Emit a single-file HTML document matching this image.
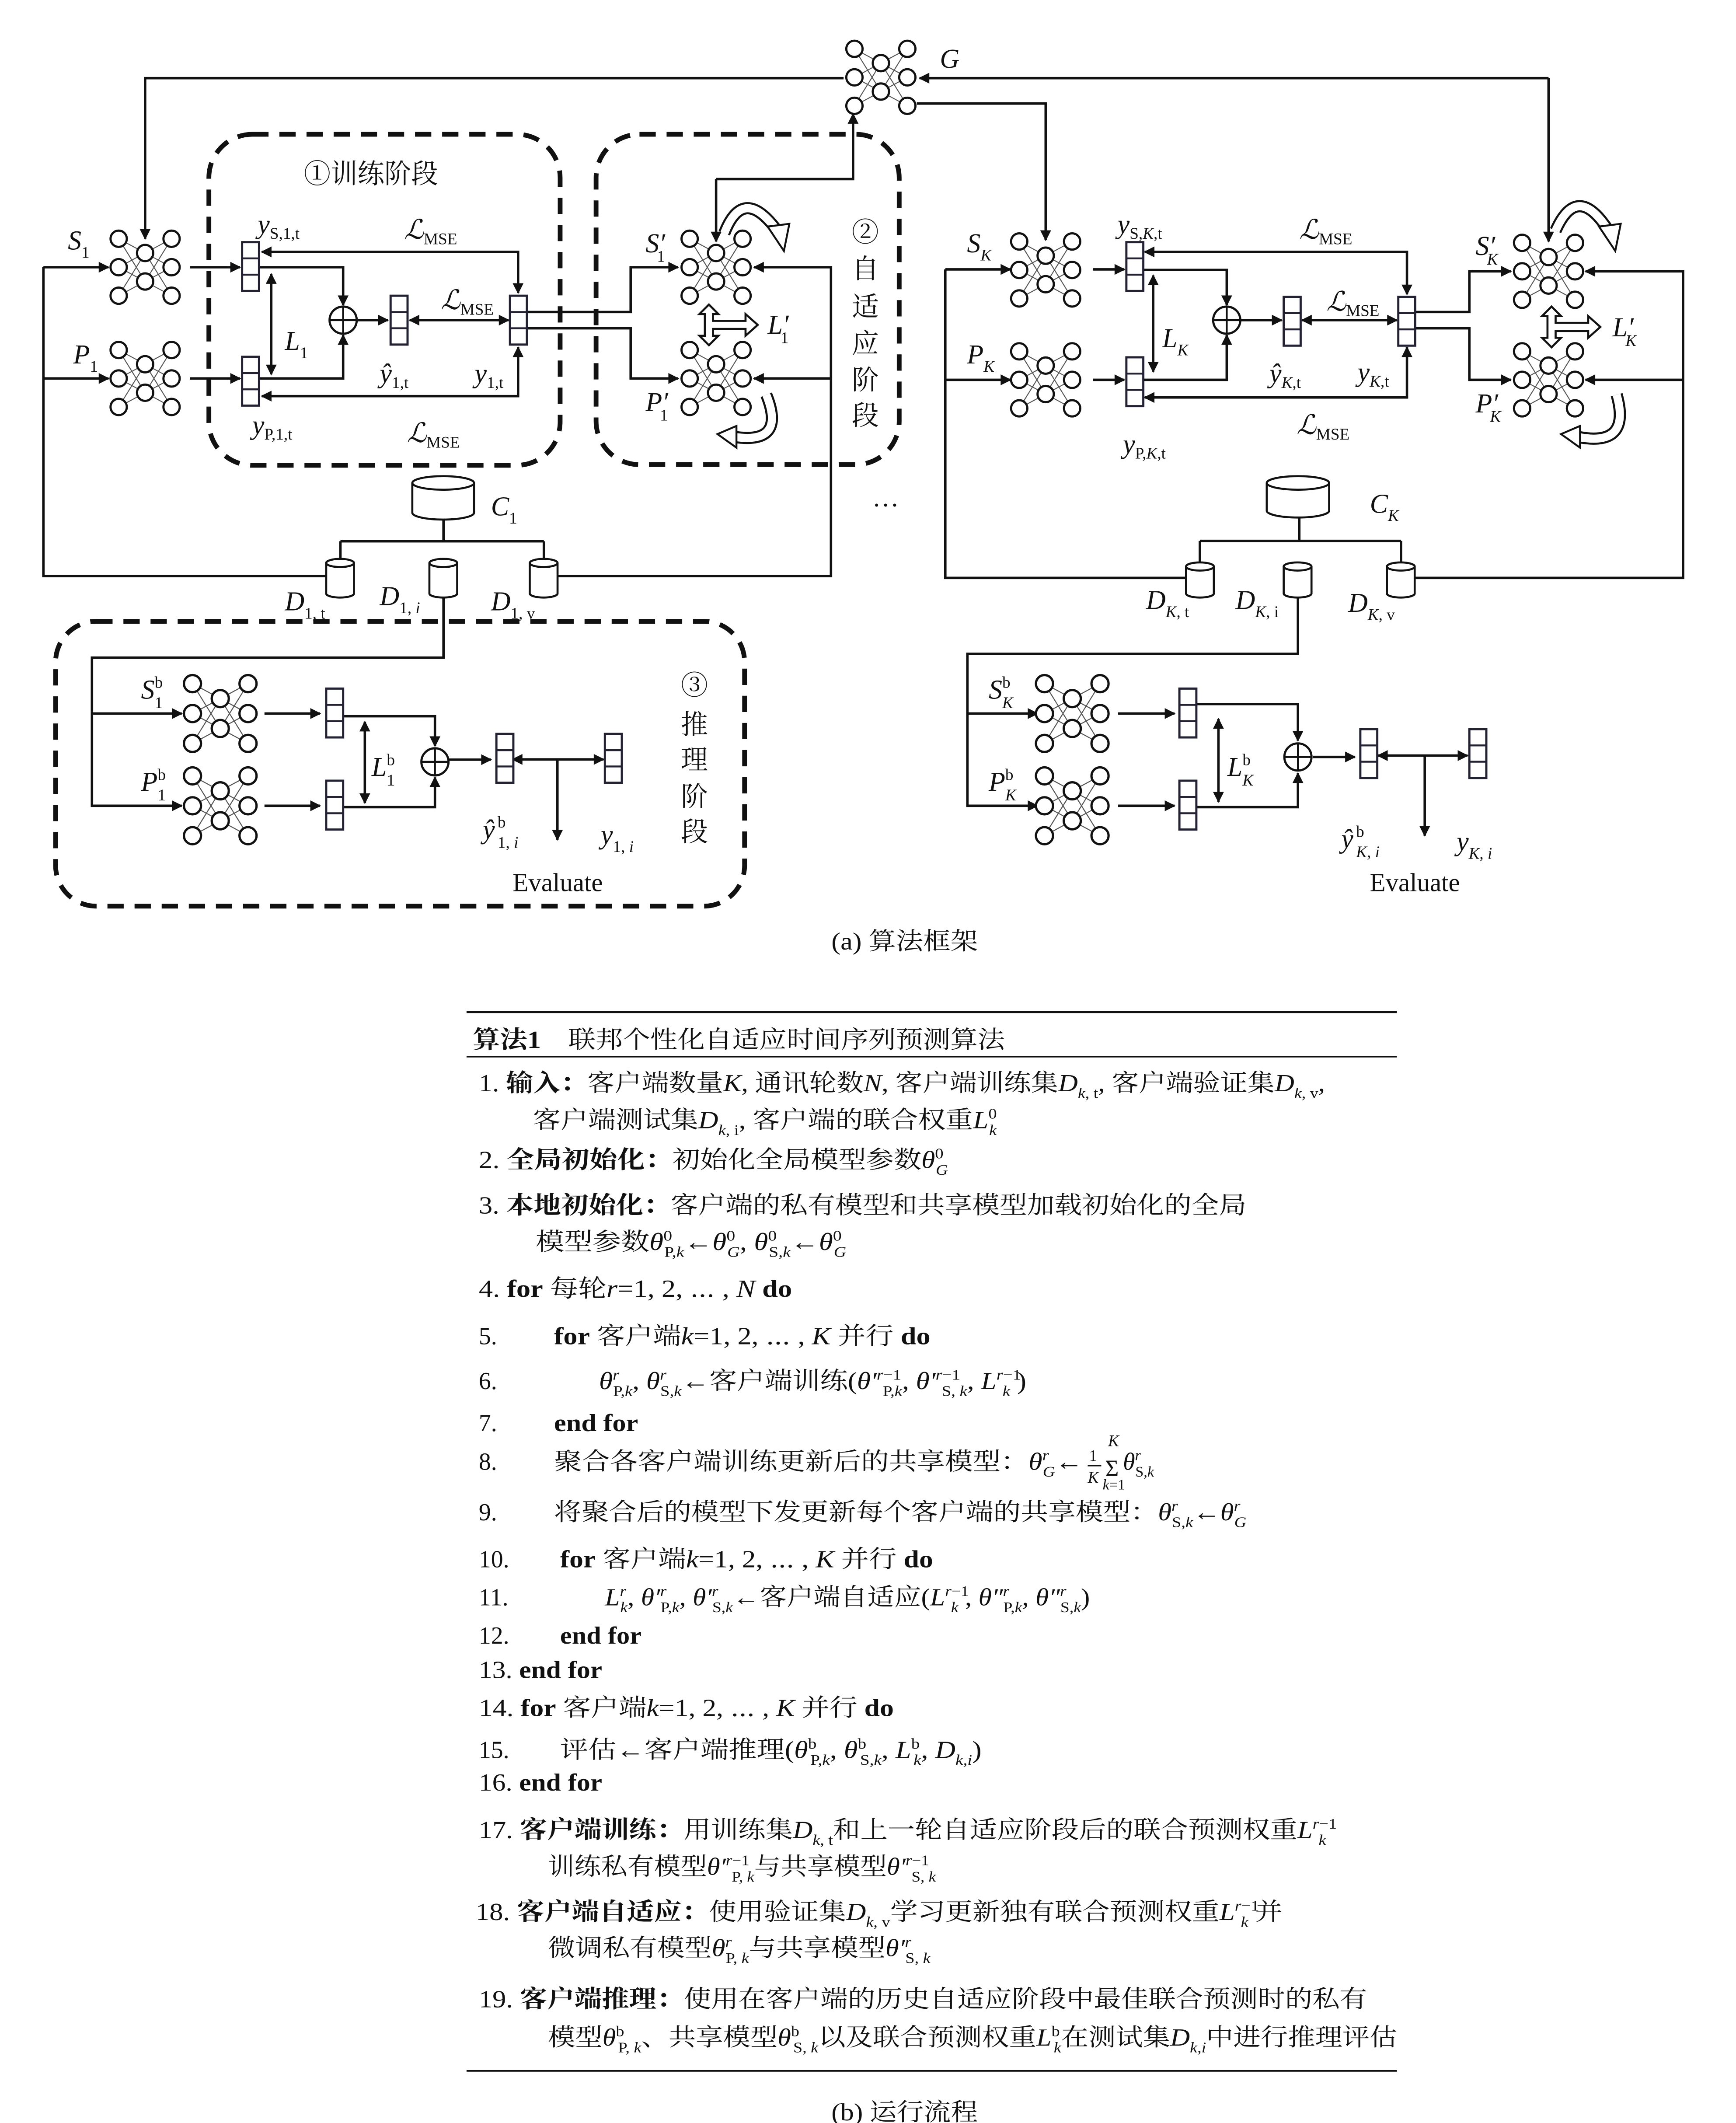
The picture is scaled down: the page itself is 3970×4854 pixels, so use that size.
<!DOCTYPE html>
<html><head><meta charset="utf-8"><style>
html,body{margin:0;padding:0;background:#fff}
svg{display:block}
text{font-family:"Liberation Serif","Noto Serif CJK SC",serif;fill:#111}
.i{font-style:italic}
.s{font-size:11px}
.m{font-size:12px;font-style:normal}
.m.i{font-style:italic}
.b{font-weight:bold}
.t{font-size:18px}
.cj{font-family:"Liberation Serif","Noto Serif CJK SC",serif;font-size:20px}
.ln{fill:none;stroke:#111;stroke-width:1.8}
</style></head><body>
<svg width="3970" height="4854" viewBox="0 0 1280 1565" preserveAspectRatio="none" xmlns="http://www.w3.org/2000/svg">
<defs>
<marker id="a" viewBox="0 0 10 10" refX="9" refY="5" markerWidth="9" markerHeight="8" markerUnits="userSpaceOnUse" orient="auto-start-reverse"><path d="M0,0 L10,5 L0,10 z" fill="#111"/></marker>
<g id="nn">
<g stroke="#555" stroke-width="0.7">
<path d="M-19.5,-21L0,-10.5M-19.5,-21L0,10.5M-19.5,0L0,-10.5M-19.5,0L0,10.5M-19.5,21L0,-10.5M-19.5,21L0,10.5M19.5,-21L0,-10.5M19.5,-21L0,10.5M19.5,0L0,-10.5M19.5,0L0,10.5M19.5,21L0,-10.5M19.5,21L0,10.5"/>
</g>
<g fill="#fff" stroke="#111" stroke-width="1.6">
<circle cx="-19.5" cy="-21" r="6"/><circle cx="-19.5" cy="0" r="6"/><circle cx="-19.5" cy="21" r="6"/>
<circle cx="0" cy="-10.5" r="6"/><circle cx="0" cy="10.5" r="6"/>
<circle cx="19.5" cy="-21" r="6"/><circle cx="19.5" cy="0" r="6"/><circle cx="19.5" cy="21" r="6"/>
</g></g>
<g id="vec"><rect x="0" y="0" width="12.5" height="36" fill="#fff" stroke="#223" stroke-width="1.6"/><path d="M0,12H12.5M0,24H12.5" stroke="#223" stroke-width="1.4"/></g>
<g id="op"><circle cx="0" cy="0" r="10" fill="#fff" stroke="#111" stroke-width="1.6"/><path d="M-10,0H10M0,-10V10" stroke="#111" stroke-width="1.4"/></g>
<g id="ha"><polygon points="0,-15 7,-8 3,-8 3,-3 27,-3 27,-8 36,0 27,8 27,3 3,3 3,8 7,8 0,15 -7,8 -3,8 -3,-8 -7,-8" fill="#fff" stroke="#111" stroke-width="1.5"/></g>
</defs>

<g fill="none" stroke="#111" stroke-width="3.5" stroke-dasharray="12 8">
<rect x="154" y="99" width="259" height="244" rx="32"/>
<rect x="439.5" y="99" width="223.5" height="243.5" rx="32"/>
<rect x="41" y="458" width="508" height="210" rx="30"/>
</g>

<path class="ln" d="M622,57.6H107V176" marker-end="url(#a)"/>
<path class="ln" d="M676,76.3H771V177" marker-end="url(#a)"/>
<path class="ln" d="M1141.8,57.6H678" marker-end="url(#a)"/>
<path class="ln" d="M1141.8,57.6V178" marker-end="url(#a)"/>
<path class="ln" d="M528,132H629V84" marker-end="url(#a)"/>
<path class="ln" d="M528,132V178" marker-end="url(#a)"/>

<path class="ln" d="M32,197H80" marker-end="url(#a)"/>
<path class="ln" d="M32,279H80" marker-end="url(#a)"/>
<path class="ln" d="M32,197V424.7H240.5"/>
<path class="ln" d="M411,424.7H612.7V197H556" marker-end="url(#a)"/>
<path class="ln" d="M612.7,279H556" marker-end="url(#a)"/>
<path class="ln" d="M140,197H177" marker-end="url(#a)"/>
<path class="ln" d="M140,279H177" marker-end="url(#a)"/>
<path class="ln" d="M191,197H253V225" marker-end="url(#a)"/>
<path class="ln" d="M191,279H253V247" marker-end="url(#a)"/>
<path class="ln" d="M200,202V276" marker-start="url(#a)" marker-end="url(#a)"/>
<path class="ln" d="M263,236H286" marker-end="url(#a)"/>
<path class="ln" d="M302,236H375" marker-start="url(#a)" marker-end="url(#a)"/>
<path class="ln" d="M193,185.7H382V216" marker-start="url(#a)" marker-end="url(#a)"/>
<path class="ln" d="M193,292H382V256" marker-start="url(#a)" marker-end="url(#a)"/>
<path class="ln" d="M389,230H465V197H500" marker-end="url(#a)"/>
<path class="ln" d="M389,242H465V279H500" marker-end="url(#a)"/>
<path class="ln" d="M327,383V399M251,399H401M251,399V412M401,399V412"/>
<path class="ln" d="M327,440V484.8H67.8V594H134" marker-end="url(#a)"/>
<path class="ln" d="M67.8,526H134" marker-end="url(#a)"/>

<use href="#nn" transform="translate(107,197)"/>
<use href="#nn" transform="translate(107,279)"/>
<use href="#nn" transform="translate(528,197)"/>
<use href="#nn" transform="translate(528,279)"/>
<use href="#nn" transform="translate(649.5,57)"/>
<use href="#vec" transform="translate(178.5,178.5)"/>
<use href="#vec" transform="translate(178.5,263)"/>
<use href="#vec" transform="translate(288,218)"/>
<use href="#vec" transform="translate(376,218)"/>
<use href="#op" transform="translate(253,236)"/>
<use href="#ha" transform="translate(522.7,239.5)"/>

<g fill="none" stroke-linecap="butt">
<path d="M534,172 Q548,136 573,170" stroke="#111" stroke-width="9"/>
<path d="M534,172 Q548,136 573,170" stroke="#fff" stroke-width="6"/>
<path d="M565,291 Q580,328 541,322" stroke="#111" stroke-width="9"/>
<path d="M565,291 Q580,328 541,322" stroke="#fff" stroke-width="6"/>
<path d="M1147,170 Q1163,134 1186,170" stroke="#111" stroke-width="9"/>
<path d="M1147,170 Q1163,134 1186,170" stroke="#fff" stroke-width="6"/>
<path d="M1192,291 Q1203,330 1163,322" stroke="#111" stroke-width="9"/>
<path d="M1192,291 Q1203,330 1163,322" stroke="#fff" stroke-width="6"/>
</g>
<g fill="#fff" stroke="#111" stroke-width="1.4">
<polygon points="566,167 582,165 578,185"/>
<polygon points="543,314 543,330 529,320"/>
<polygon points="1179,167 1195,165 1191,185"/>
<polygon points="1165,314 1165,330 1151,320"/>
</g>

<g fill="#fff" stroke="#111" stroke-width="1.5">
<path d="M304,356 L304,378 A22.75,5 0 0 0 349.5,378 L349.5,356"/><ellipse cx="326.75" cy="356" rx="22.75" ry="5"/>
<path d="M934,356 L934,376.5 A23,5 0 0 0 980,376.5 L980,356"/><ellipse cx="957" cy="356" rx="23" ry="5"/>
<path d="M240.5,415 L240.5,437.5 A10.25,3 0 0 0 261,437.5 L261,415"/><ellipse cx="250.75" cy="415" rx="10.25" ry="3"/>
<path d="M316.6,415 L316.6,437.5 A10.25,3 0 0 0 337.1,437.5 L337.1,415"/><ellipse cx="326.85" cy="415" rx="10.25" ry="3"/>
<path d="M390.6,415 L390.6,437.5 A10.25,3 0 0 0 411.1,437.5 L411.1,415"/><ellipse cx="400.85" cy="415" rx="10.25" ry="3"/>
<path d="M874.5,417.6 L874.5,437.5 A10.25,3 0 0 0 895,437.5 L895,417.6"/><ellipse cx="884.75" cy="417.6" rx="10.25" ry="3"/>
<path d="M946.5,417.6 L946.5,437.5 A10.25,3 0 0 0 967,437.5 L967,417.6"/><ellipse cx="956.75" cy="417.6" rx="10.25" ry="3"/>
<path d="M1022.6,417.6 L1022.6,437.5 A10.25,3 0 0 0 1043.1,437.5 L1043.1,417.6"/><ellipse cx="1032.85" cy="417.6" rx="10.25" ry="3"/>
</g>

<path class="ln" d="M697,198.6H745" marker-end="url(#a)"/>
<path class="ln" d="M697,280H745" marker-end="url(#a)"/>
<path class="ln" d="M697,198.6V426H874.5"/>
<path class="ln" d="M1043,426H1241V200H1169" marker-end="url(#a)"/>
<path class="ln" d="M1241,280H1169" marker-end="url(#a)"/>
<path class="ln" d="M806,198.6H829" marker-end="url(#a)"/>
<path class="ln" d="M806,280H829" marker-end="url(#a)"/>
<path class="ln" d="M842,199H904.5V225" marker-end="url(#a)"/>
<path class="ln" d="M842,280H904.5V247" marker-end="url(#a)"/>
<path class="ln" d="M915,236H945" marker-end="url(#a)"/>
<path class="ln" d="M960,236H1030" marker-start="url(#a)" marker-end="url(#a)"/>
<path class="ln" d="M844,185.7H1037.4V217" marker-start="url(#a)" marker-end="url(#a)"/>
<path class="ln" d="M844,293H1037.4V256" marker-start="url(#a)" marker-end="url(#a)"/>
<path class="ln" d="M850.3,203V274" marker-start="url(#a)" marker-end="url(#a)"/>
<path class="ln" d="M1044,230H1083.4V200H1114" marker-end="url(#a)"/>
<path class="ln" d="M1044,242H1083.4V280H1114" marker-end="url(#a)"/>
<path class="ln" d="M958,381.5V398.7M884.7,398.7H1033M884.7,398.7V414.6M1033,398.7V414.6"/>
<path class="ln" d="M957,440V482H713.3V594H765" marker-end="url(#a)"/>
<path class="ln" d="M713.3,526H765" marker-end="url(#a)"/>

<use href="#nn" transform="translate(771,199)"/>
<use href="#nn" transform="translate(771,280)"/>
<use href="#nn" transform="translate(1141.8,200)"/>
<use href="#nn" transform="translate(1141.8,280)"/>
<use href="#vec" transform="translate(830.5,178.5)"/>
<use href="#vec" transform="translate(830.5,263.4)"/>
<use href="#vec" transform="translate(946.5,218.8)"/>
<use href="#vec" transform="translate(1031,218.8)"/>
<use href="#op" transform="translate(904.5,236)"/>
<use href="#ha" transform="translate(1144,241)"/>

<path class="ln" d="M195,526H236" marker-end="url(#a)"/>
<path class="ln" d="M195,594H236" marker-end="url(#a)"/>
<path class="ln" d="M253,528H320.7V550" marker-end="url(#a)"/>
<path class="ln" d="M253,595H320.7V573" marker-end="url(#a)"/>
<path class="ln" d="M331,560H362" marker-end="url(#a)"/>
<path class="ln" d="M378,559.8H445" marker-start="url(#a)" marker-end="url(#a)"/>
<path class="ln" d="M411,559.8V619" marker-end="url(#a)"/>
<path class="ln" d="M269,532V592" marker-start="url(#a)" marker-end="url(#a)"/>
<use href="#nn" transform="translate(162.4,526) scale(1.05)"/>
<use href="#nn" transform="translate(162.4,594) scale(1.05)"/>
<use href="#vec" transform="translate(240.5,507.6)"/>
<use href="#vec" transform="translate(240.5,575.5)"/>
<use href="#vec" transform="translate(366,541)"/>
<use href="#vec" transform="translate(446,541)"/>
<use href="#op" transform="translate(320.7,561.6)"/>

<path class="ln" d="M824.4,526H866" marker-end="url(#a)"/>
<path class="ln" d="M824.4,594H866" marker-end="url(#a)"/>
<path class="ln" d="M882,519H957V546" marker-end="url(#a)"/>
<path class="ln" d="M882,595H957V570" marker-end="url(#a)"/>
<path class="ln" d="M968,558H999" marker-end="url(#a)"/>
<path class="ln" d="M1016,557H1082" marker-start="url(#a)" marker-end="url(#a)"/>
<path class="ln" d="M1050.5,557V616" marker-end="url(#a)"/>
<path class="ln" d="M898.4,530V591" marker-start="url(#a)" marker-end="url(#a)"/>
<use href="#nn" transform="translate(790.6,526) scale(1.05)"/>
<use href="#nn" transform="translate(790.6,594) scale(1.05)"/>
<use href="#vec" transform="translate(869.6,507.6)"/>
<use href="#vec" transform="translate(869.6,575.5)"/>
<use href="#vec" transform="translate(1003,537.5)"/>
<use href="#vec" transform="translate(1083.4,537.5)"/>
<use href="#op" transform="translate(957,558)"/>

<g font-size="20">
<text x="50" y="184" class="i">S<tspan class="m" dy="6">1</tspan></text>
<text x="54" y="268" class="i">P<tspan class="m" dy="6">1</tspan></text>
<text x="190" y="172" class="i">y<tspan class="m" dy="4">S,1,t</tspan></text>
<text x="298" y="176" class="i">ℒ<tspan class="m" dy="4">MSE</tspan></text>
<text x="325" y="228" class="i">ℒ<tspan class="m" dy="4">MSE</tspan></text>
<text x="300" y="326" class="i">ℒ<tspan class="m" dy="4">MSE</tspan></text>
<text x="280" y="282" class="i">ŷ<tspan class="m" dy="4">1,t</tspan></text>
<text x="350" y="282" class="i">y<tspan class="m" dy="4">1,t</tspan></text>
<text x="186" y="320" class="i">y<tspan class="m" dy="4">P,1,t</tspan></text>
<text x="210" y="258" class="i">L<tspan class="m" dy="6">1</tspan></text>
<text x="476" y="186" class="i">S′<tspan class="m" dx="-6" dy="7">1</tspan></text>
<text x="476" y="303" class="i">P′<tspan class="m" dx="-6" dy="7">1</tspan></text>
<text x="566" y="246" class="i">L′<tspan class="m" dx="-6" dy="7">1</tspan></text>
<text x="362" y="380" class="i">C<tspan class="m" dy="6">1</tspan></text>
<text x="210" y="450" class="i">D<tspan class="m" dy="6">1, t</tspan></text>
<text x="280" y="446" class="i">D<tspan class="m" dy="6">1, <tspan class="i">i</tspan></tspan></text>
<text x="362" y="450" class="i">D<tspan class="m" dy="6">1, v</tspan></text>
<text x="693" y="50" class="i">G</text>
<text x="643" y="380">⋯</text>
<text x="713" y="186" class="i">S<tspan class="m i" dy="6">K</tspan></text>
<text x="713" y="268" class="i">P<tspan class="m i" dy="6">K</tspan></text>
<text x="824" y="172" class="i">y<tspan class="m" dy="4">S,<tspan class="i">K</tspan>,t</tspan></text>
<text x="958" y="176" class="i">ℒ<tspan class="m" dy="4">MSE</tspan></text>
<text x="978" y="229" class="i">ℒ<tspan class="m" dy="4">MSE</tspan></text>
<text x="956" y="320" class="i">ℒ<tspan class="m" dy="4">MSE</tspan></text>
<text x="936" y="282" class="i">ŷ<tspan class="m" dy="4"><tspan class="i">K</tspan>,t</tspan></text>
<text x="1001" y="281" class="i">y<tspan class="m" dy="4"><tspan class="i">K</tspan>,t</tspan></text>
<text x="828" y="334" class="i">y<tspan class="m" dy="4">P,<tspan class="i">K</tspan>,t</tspan></text>
<text x="857" y="256" class="i">L<tspan class="m i" dy="6">K</tspan></text>
<text x="1088" y="188" class="i">S′<tspan class="m i" dx="-6" dy="7">K</tspan></text>
<text x="1088" y="304" class="i">P′<tspan class="m i" dx="-6" dy="7">K</tspan></text>
<text x="1189" y="248" class="i">L′<tspan class="m i" dx="-6" dy="7">K</tspan></text>
<text x="1010" y="378" class="i">C<tspan class="m i" dy="6">K</tspan></text>
<text x="845" y="449" class="i">D<tspan class="m" dy="6"><tspan class="i">K</tspan>, t</tspan></text>
<text x="911" y="449" class="i">D<tspan class="m" dy="6"><tspan class="i">K</tspan>, i</tspan></text>
<text x="994" y="451" class="i">D<tspan class="m" dy="6"><tspan class="i">K</tspan>, v</tspan></text>
<text x="104" y="515" class="i">S<tspan class="m" dy="-8">b</tspan><tspan class="m" dx="-6" dy="15">1</tspan></text>
<text x="104" y="583" class="i">P<tspan class="m" dy="-8">b</tspan><tspan class="m" dx="-6" dy="15">1</tspan></text>
<text x="274" y="572" class="i">L<tspan class="m" dy="-8">b</tspan><tspan class="m" dx="-6" dy="15">1</tspan></text>
<text x="356" y="618" class="i">ŷ<tspan class="m" dy="-8" dx="2">b</tspan><tspan class="m" dx="-6" dy="15">1, <tspan class="i">i</tspan></tspan></text>
<text x="443" y="622" class="i">y<tspan class="m" dy="6">1, <tspan class="i">i</tspan></tspan></text>
<text x="729" y="515" class="i">S<tspan class="m" dy="-8">b</tspan><tspan class="m i" dx="-6" dy="15">K</tspan></text>
<text x="729" y="583" class="i">P<tspan class="m" dy="-8">b</tspan><tspan class="m i" dx="-6" dy="15">K</tspan></text>
<text x="905" y="572" class="i">L<tspan class="m" dy="-8">b</tspan><tspan class="m i" dx="-6" dy="15">K</tspan></text>
<text x="989" y="625" class="i">ŷ<tspan class="m" dy="-8" dx="2">b</tspan><tspan class="m" dx="-6" dy="15"><tspan class="i">K</tspan>, <tspan class="i">i</tspan></tspan></text>
<text x="1074" y="627" class="i">y<tspan class="m" dy="6"><tspan class="i">K</tspan>, <tspan class="i">i</tspan></tspan></text>
</g>
<text x="378" y="657" font-size="19">Evaluate</text>
<text x="1010" y="657" font-size="19">Evaluate</text>
<text x="224" y="135" class="cj" textLength="99" lengthAdjust="spacingAndGlyphs">①训练阶段</text>
<g class="cj" text-anchor="middle">
<text x="638" y="178">②</text><text x="638" y="205">自</text><text x="638" y="233">适</text><text x="638" y="260">应</text><text x="638" y="287">阶</text><text x="638" y="313">段</text>
<text x="512" y="512">③</text><text x="512" y="541">推</text><text x="512" y="567">理</text><text x="512" y="594">阶</text><text x="512" y="620">段</text>
</g>
<text x="613" y="700" font-size="18" textLength="108" lengthAdjust="spacingAndGlyphs">(a) 算法框架</text>

<path d="M344,746H1030" stroke="#111" stroke-width="1.6"/>
<path d="M344,779H1030" stroke="#111" stroke-width="1"/>
<path d="M344,1526.6H1030" stroke="#111" stroke-width="1.2"/>
<g class="t">
<text x="348.5" y="772.5" textLength="392.5" lengthAdjust="spacingAndGlyphs"><tspan class="b">算法1</tspan>　联邦个性化自适应时间序列预测算法</text>
<text x="353" y="804.5" textLength="624" lengthAdjust="spacingAndGlyphs">1. <tspan class="b">输入：</tspan>客户端数量<tspan class="i">K</tspan>, 通讯轮数<tspan class="i">N</tspan>, 客户端训练集<tspan class="i">D</tspan><tspan class="s" dy="5"><tspan class="i">k</tspan>, t</tspan><tspan dy="-5">, 客户端验证集</tspan><tspan class="i">D</tspan><tspan class="s" dy="5"><tspan class="i">k</tspan>, v</tspan><tspan dy="-5">,</tspan></text>
<text x="393" y="831.6" textLength="342" lengthAdjust="spacingAndGlyphs">客户端测试集<tspan class="i">D</tspan><tspan class="s" dy="5"><tspan class="i">k</tspan>, i</tspan><tspan dy="-5">, 客户端的联合权重</tspan><tspan class="i">L</tspan><tspan class="s" dy="-7">0</tspan><tspan class="s i" dx="-5" dy="12">k</tspan></text>
<text x="353" y="861" textLength="346" lengthAdjust="spacingAndGlyphs">2. <tspan class="b">全局初始化：</tspan>初始化全局模型参数<tspan class="i">θ</tspan><tspan class="s" dy="-7">0</tspan><tspan class="s i" dx="-5" dy="12">G</tspan></text>
<text x="353" y="894.5" textLength="566" lengthAdjust="spacingAndGlyphs">3. <tspan class="b">本地初始化：</tspan>客户端的私有模型和共享模型加载初始化的全局</text>
<text x="395" y="921.5" textLength="229" lengthAdjust="spacingAndGlyphs">模型参数<tspan class="i">θ</tspan><tspan class="s" dy="-7">0</tspan><tspan class="s" dx="-5" dy="12">P,<tspan class="i">k</tspan></tspan><tspan dy="-5">←</tspan><tspan class="i">θ</tspan><tspan class="s" dy="-7">0</tspan><tspan class="s i" dx="-5" dy="12">G</tspan><tspan dy="-5">, </tspan><tspan class="i">θ</tspan><tspan class="s" dy="-7">0</tspan><tspan class="s" dx="-5" dy="12">S,<tspan class="i">k</tspan></tspan><tspan dy="-5">←</tspan><tspan class="i">θ</tspan><tspan class="s" dy="-7">0</tspan><tspan class="s i" dx="-5" dy="12">G</tspan></text>
<text x="353" y="956" textLength="231" lengthAdjust="spacingAndGlyphs">4. <tspan class="b">for</tspan>  每轮<tspan class="i">r</tspan>=1, 2, ⋯ , <tspan class="i">N</tspan> <tspan class="b">do</tspan></text>
<text x="353" y="991">5.</text>
<text x="408.5" y="991" textLength="277.5" lengthAdjust="spacingAndGlyphs"><tspan class="b">for</tspan> 客户端<tspan class="i">k</tspan>=1, 2, ⋯ , <tspan class="i">K</tspan>  并行 <tspan class="b">do</tspan></text>
<text x="353" y="1024">6.</text>
<text x="441.7" y="1024" textLength="315" lengthAdjust="spacingAndGlyphs"><tspan class="i">θ</tspan><tspan class="s i" dy="-7">r</tspan><tspan class="s" dx="-4" dy="12">P,<tspan class="i">k</tspan></tspan><tspan dy="-5">, </tspan><tspan class="i">θ</tspan><tspan class="s i" dy="-7">r</tspan><tspan class="s" dx="-4" dy="12">S,<tspan class="i">k</tspan></tspan><tspan dy="-5">←客户端训练(</tspan><tspan class="i">θ′</tspan><tspan class="s" dy="-7"><tspan class="i">r</tspan>−1</tspan><tspan class="s" dx="-12" dy="12">P,<tspan class="i">k</tspan></tspan><tspan dy="-5">, </tspan><tspan class="i">θ′</tspan><tspan class="s" dy="-7"><tspan class="i">r</tspan>−1</tspan><tspan class="s" dx="-12" dy="12">S, <tspan class="i">k</tspan></tspan><tspan dy="-5">, </tspan><tspan class="i">L</tspan><tspan class="s" dy="-7"><tspan class="i">r</tspan>−1</tspan><tspan class="s i" dx="-12" dy="12">k</tspan><tspan dy="-5">  )</tspan></text>
<text x="353" y="1055">7.</text>
<text x="408.5" y="1055" class="b" textLength="62" lengthAdjust="spacingAndGlyphs">end for</text>
<text x="353" y="1083.4">8.</text>
<text x="408.5" y="1083.4" textLength="390" lengthAdjust="spacingAndGlyphs">聚合各客户端训练更新后的共享模型：<tspan class="i">θ</tspan><tspan class="s i" dy="-7">r</tspan><tspan class="s i" dx="-4" dy="12">G</tspan><tspan dy="-5">←</tspan></text>
<text x="803" y="1077" font-size="12">1</text>
<path d="M802,1080.5H812" stroke="#111" stroke-width="0.9"/>
<text x="802" y="1093" font-size="12" class="i">K</text>
<text x="815" y="1088" font-size="17">Σ</text>
<text x="817" y="1066" font-size="12" class="i">K</text>
<text x="813" y="1098" font-size="11"><tspan class="i">k</tspan>=1</text>
<text x="828" y="1083.4"><tspan class="i">θ</tspan><tspan class="s i" dy="-7">r</tspan><tspan class="s" dx="-4" dy="12">S,<tspan class="i">k</tspan></tspan></text>
<text x="353" y="1120.7">9.</text>
<text x="408.5" y="1120.7" textLength="510.5" lengthAdjust="spacingAndGlyphs">将聚合后的模型下发更新每个客户端的共享模型：<tspan class="i">θ</tspan><tspan class="s i" dy="-7">r</tspan><tspan class="s" dx="-4" dy="12">S,<tspan class="i">k</tspan></tspan><tspan dy="-5">←</tspan><tspan class="i">θ</tspan><tspan class="s i" dy="-7">r</tspan><tspan class="s i" dx="-4" dy="12">G</tspan></text>
<text x="353" y="1155.3">10.</text>
<text x="413" y="1155.3" textLength="275" lengthAdjust="spacingAndGlyphs"><tspan class="b">for</tspan> 客户端<tspan class="i">k</tspan>=1, 2, ⋯ , <tspan class="i">K</tspan>  并行 <tspan class="b">do</tspan></text>
<text x="353" y="1183.5">11.</text>
<text x="446" y="1183.5" textLength="357.6" lengthAdjust="spacingAndGlyphs"><tspan class="i">L</tspan><tspan class="s i" dy="-7">r</tspan><tspan class="s i" dx="-4" dy="12">k</tspan><tspan dy="-5">, </tspan><tspan class="i">θ′</tspan><tspan class="s i" dy="-7">r</tspan><tspan class="s" dx="-4" dy="12">P,<tspan class="i">k</tspan></tspan><tspan dy="-5">, </tspan><tspan class="i">θ′</tspan><tspan class="s i" dy="-7">r</tspan><tspan class="s" dx="-4" dy="12">S,<tspan class="i">k</tspan></tspan><tspan dy="-5">←客户端自适应(</tspan><tspan class="i">L</tspan><tspan class="s" dy="-7"><tspan class="i">r</tspan>−1</tspan><tspan class="s i" dx="-12" dy="12">k</tspan><tspan dy="-5">  , </tspan><tspan class="i">θ″</tspan><tspan class="s i" dy="-7">r</tspan><tspan class="s" dx="-4" dy="12">P,<tspan class="i">k</tspan></tspan><tspan dy="-5">, </tspan><tspan class="i">θ″</tspan><tspan class="s i" dy="-7">r</tspan><tspan class="s" dx="-4" dy="12">S,<tspan class="i">k</tspan></tspan><tspan dy="-5">)</tspan></text>
<text x="353" y="1211.6">12.</text>
<text x="413" y="1211.6" class="b" textLength="60" lengthAdjust="spacingAndGlyphs">end for</text>
<text x="353" y="1237" textLength="91" lengthAdjust="spacingAndGlyphs">13. <tspan class="b">end for</tspan></text>
<text x="353" y="1265" textLength="306" lengthAdjust="spacingAndGlyphs">14. <tspan class="b">for</tspan> 客户端<tspan class="i">k</tspan>=1, 2, ⋯ , <tspan class="i">K</tspan>  并行 <tspan class="b">do</tspan></text>
<text x="353" y="1296">15.</text>
<text x="413" y="1296" textLength="310.7" lengthAdjust="spacingAndGlyphs">评估←客户端推理(<tspan class="i">θ</tspan><tspan class="s" dy="-7">b</tspan><tspan class="s" dx="-4" dy="12">P,<tspan class="i">k</tspan></tspan><tspan dy="-5">, </tspan><tspan class="i">θ</tspan><tspan class="s" dy="-7">b</tspan><tspan class="s" dx="-4" dy="12">S,<tspan class="i">k</tspan></tspan><tspan dy="-5">, </tspan><tspan class="i">L</tspan><tspan class="s" dy="-7">b</tspan><tspan class="s i" dx="-4" dy="12">k</tspan><tspan dy="-5">, </tspan><tspan class="i">D</tspan><tspan class="s i" dy="5">k,i</tspan><tspan dy="-5">)</tspan></text>
<text x="353" y="1320" textLength="91" lengthAdjust="spacingAndGlyphs">16. <tspan class="b">end for</tspan></text>
<text x="353" y="1355" textLength="632.7" lengthAdjust="spacingAndGlyphs">17. <tspan class="b">客户端训练：</tspan>用训练集<tspan class="i">D</tspan><tspan class="s" dy="5"><tspan class="i">k</tspan>, t</tspan><tspan dy="-5">和上一轮自适应阶段后的联合预测权重</tspan><tspan class="i">L</tspan><tspan class="s" dy="-7"><tspan class="i">r</tspan>−1</tspan><tspan class="s i" dx="-12" dy="12">k</tspan></text>
<text x="404" y="1382" textLength="286" lengthAdjust="spacingAndGlyphs">训练私有模型<tspan class="i">θ′</tspan><tspan class="s" dy="-7"><tspan class="i">r</tspan>−1</tspan><tspan class="s" dx="-12" dy="12">P, <tspan class="i">k</tspan></tspan><tspan dy="-5">与共享模型</tspan><tspan class="i">θ′</tspan><tspan class="s" dy="-7"><tspan class="i">r</tspan>−1</tspan><tspan class="s" dx="-12" dy="12">S, <tspan class="i">k</tspan></tspan></text>
<text x="350.7" y="1415.4" textLength="595" lengthAdjust="spacingAndGlyphs">18. <tspan class="b">客户端自适应：</tspan>使用验证集<tspan class="i">D</tspan><tspan class="s" dy="5"><tspan class="i">k</tspan>, v</tspan><tspan dy="-5">学习更新独有联合预测权重</tspan><tspan class="i">L</tspan><tspan class="s" dy="-7"><tspan class="i">r</tspan>−1</tspan><tspan class="s i" dx="-12" dy="12">k</tspan><tspan dy="-5">  并</tspan></text>
<text x="404" y="1442" textLength="282" lengthAdjust="spacingAndGlyphs">微调私有模型<tspan class="i">θ</tspan><tspan class="s i" dy="-7">r</tspan><tspan class="s" dx="-4" dy="12">P, <tspan class="i">k</tspan></tspan><tspan dy="-5">与共享模型</tspan><tspan class="i">θ′</tspan><tspan class="s i" dy="-7">r</tspan><tspan class="s" dx="-4" dy="12">S, <tspan class="i">k</tspan></tspan></text>
<text x="353" y="1479.7" textLength="655" lengthAdjust="spacingAndGlyphs">19. <tspan class="b">客户端推理：</tspan>使用在客户端的历史自适应阶段中最佳联合预测时的私有</text>
<text x="404" y="1508" textLength="626" lengthAdjust="spacingAndGlyphs">模型<tspan class="i">θ</tspan><tspan class="s" dy="-7">b</tspan><tspan class="s" dx="-4" dy="12">P, <tspan class="i">k</tspan></tspan><tspan dy="-5">、共享模型</tspan><tspan class="i">θ</tspan><tspan class="s" dy="-7">b</tspan><tspan class="s" dx="-4" dy="12">S, <tspan class="i">k</tspan></tspan><tspan dy="-5">以及联合预测权重</tspan><tspan class="i">L</tspan><tspan class="s" dy="-7">b</tspan><tspan class="s i" dx="-4" dy="12">k</tspan><tspan dy="-5">在测试集</tspan><tspan class="i">D</tspan><tspan class="s i" dy="5">k,i</tspan><tspan dy="-5">中进行推理评估</tspan></text>
</g>
<text x="613" y="1563" font-size="18" textLength="108" lengthAdjust="spacingAndGlyphs">(b) 运行流程</text>
</svg>
</body></html>
